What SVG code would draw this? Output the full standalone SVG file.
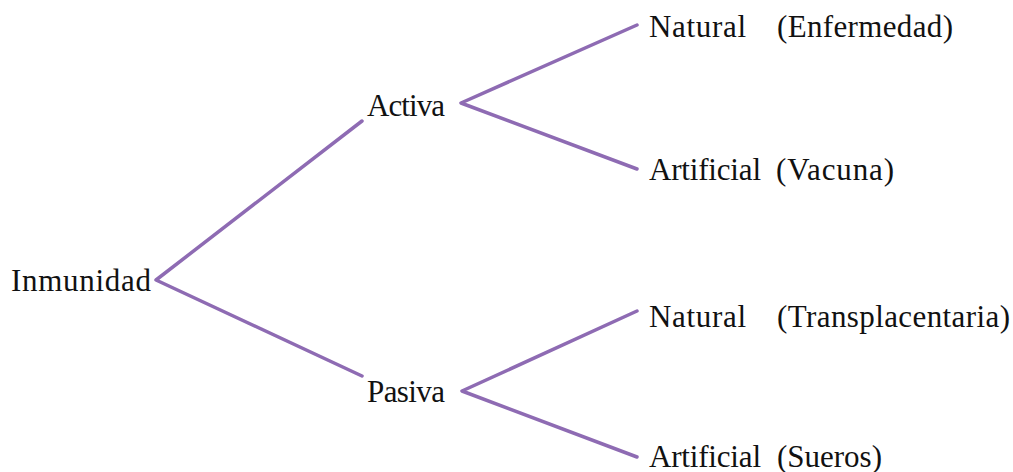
<svg xmlns="http://www.w3.org/2000/svg" width="1013" height="472" viewBox="0 0 1013 472">
<style>
text{font-family:'Liberation Serif',serif;font-size:31px;fill:#111111}
.c{stroke:#8e6bb3;stroke-width:3.5;fill:none;stroke-linecap:round;stroke-linejoin:round}
</style>
<rect width="1013" height="472" fill="#ffffff"/>
<g id="connectors">
<polyline class="c" points="362,121 156,280 362,376"/>
<polyline class="c" points="637,25 461,103 637,169"/>
<polyline class="c" points="637,311 462,391 637,457"/>
</g>
<g font-family="Liberation Serif">
<g id="inmunidad"><text x="11" y="291" textLength="140" font-family="Liberation Serif">Inmunidad</text></g>
<g id="activa"><text x="367" y="116" textLength="78" font-family="Liberation Serif">Activa</text></g>
<g id="pasiva"><text x="367" y="402" textLength="78" font-family="Liberation Serif">Pasiva</text></g>
<g id="activa-natural"><text y="37" font-family="Liberation Serif"><tspan x="649" textLength="97">Natural</tspan><tspan x="777" textLength="176">(Enfermedad)</tspan></text></g>
<g id="activa-artificial"><text y="180" font-family="Liberation Serif"><tspan x="649" textLength="112">Artificial</tspan><tspan x="776" textLength="118">(Vacuna)</tspan></text></g>
<g id="pasiva-natural"><text y="327" font-family="Liberation Serif"><tspan x="649" textLength="97">Natural</tspan><tspan x="777" textLength="233">(Transplacentaria)</tspan></text></g>
<g id="pasiva-artificial"><text y="467" font-family="Liberation Serif"><tspan x="649" textLength="112">Artificial</tspan><tspan x="777" textLength="105">(Sueros)</tspan></text></g>
</g>
</svg>
